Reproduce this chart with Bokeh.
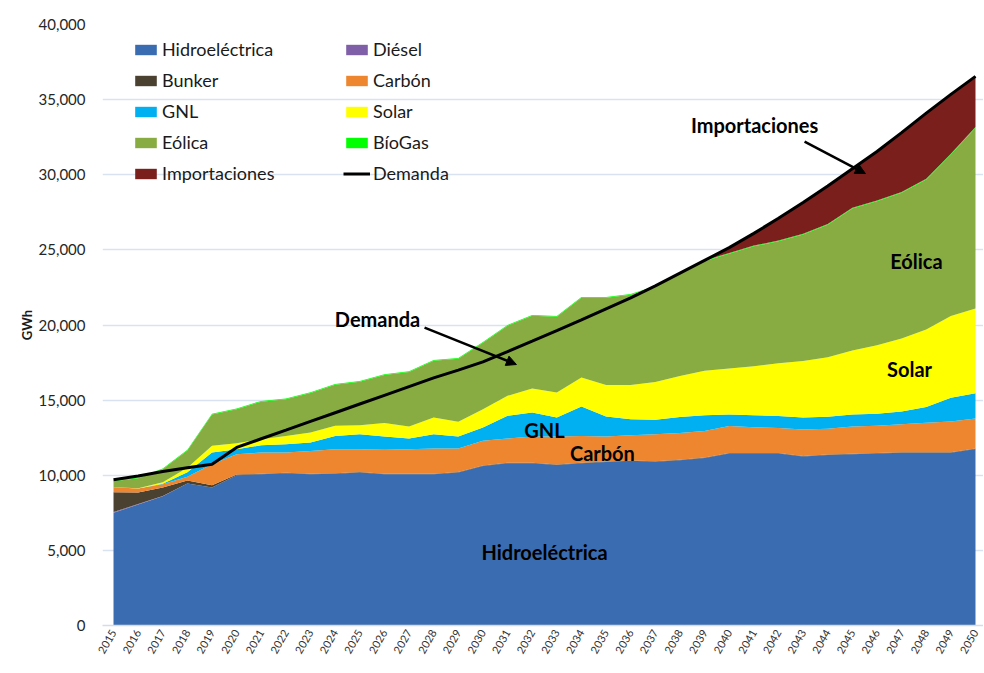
from bokeh.plotting import figure
from bokeh.models import (ColumnDataSource, Legend, LegendItem, FixedTicker,
                          NumeralTickFormatter, Arrow, NormalHead, Label, Range1d)
from bokeh.embed import file_html
from bokeh.resources import INLINE

years = list(range(2015, 2051))
tick_years = list(range(2015, 2051))
y_ticks = [0, 5000, 10000, 15000, 20000, 25000, 30000, 35000, 40000]

hidro = [7500, 8050, 8600, 9450, 9180, 10000, 10070, 10130, 10070, 10100, 10180, 10070,
         10070, 10070, 10180, 10620, 10800, 10800, 10690, 10800, 10890, 10960, 10900, 11000,
         11150, 11450, 11450, 11450, 11250, 11350, 11400, 11450, 11500, 11500, 11500, 11750]
diesel = [50, 40, 20, 0, 0, 0, 0, 0, 0, 0, 0, 0, 0, 0, 0, 0, 0, 0,
          0, 0, 0, 0, 0, 0, 0, 0, 0, 0, 0, 0, 0, 0, 0, 0, 0, 0]
bunker = [1320, 760, 560, 200, 150, 50, 30, 30, 30, 30, 30, 30, 30, 30, 30, 30, 30, 30,
          30, 30, 30, 30, 30, 30, 30, 30, 30, 30, 30, 30, 30, 30, 30, 30, 30, 30]
carbon = [330, 260, 220, 250, 1400, 1350, 1410, 1350, 1520, 1600, 1520, 1600,
          1630, 1680, 1570, 1640, 1610, 1750, 1860, 1790, 1660, 1680, 1800, 1790,
          1770, 1800, 1720, 1670, 1770, 1720, 1820, 1820, 1870, 1970, 2040, 2000]
gnl = [0, 0, 30, 300, 780, 330, 490, 560, 560, 890, 1000, 880,
       710, 950, 800, 890, 1520, 1600, 1260, 1960, 1330, 1060, 970, 1060,
       1050, 770, 800, 800, 800, 800, 800, 800, 850, 1050, 1580, 1670]
solar = [0, 30, 100, 300, 450, 400, 400, 550, 670, 670, 600, 890,
         800, 1110, 980, 1220, 1330, 1600, 1670, 1930, 2090, 2270, 2500, 2720,
         2950, 3050, 3250, 3500, 3750, 3950, 4250, 4550, 4850, 5150, 5450, 5650]
eolica = [400, 660, 870, 1150, 2090, 2270, 2500, 2430, 2630, 2730, 2890, 3210,
          3640, 3780, 4190, 4420, 4660, 4840, 5040, 5310, 5820, 6020, 6350, 6800,
          7300, 7650, 7990, 8120, 8420, 8830, 9450, 9590, 9700, 9980, 10750, 12030]
biogas = [50, 50, 50, 50, 50, 50, 50, 50, 50, 50, 50, 50, 50, 50, 50, 50, 50, 50,
          50, 50, 50, 50, 50, 50, 50, 50, 50, 50, 50, 50, 50, 50, 50, 50, 50, 50]
importaciones = [0, 0, 0, 0, 0, 0, 0, 0, 0, 0, 0, 0, 0, 0, 0, 0, 0, 0, 0, 0, 0, 0, 0, 0, 0,
                 350, 810, 1480, 2080, 2520, 2600, 3260, 3950, 4370, 3950, 3370]
demanda = [9700, 9950, 10250, 10500, 10730, 11850, 12430, 13000, 13580, 14160, 14740, 15320,
           15900, 16480, 17000, 17550, 18230, 18920, 19620, 20340, 21080, 21800, 22600, 23450,
           24300, 25150, 26100, 27100, 28150, 29250, 30400, 31550, 32800, 34100, 35350, 36550]

series_names = ["Hidroeléctrica", "Diésel", "Bunker", "Carbón", "GNL", "Solar",
                "Eólica", "BíoGas", "Importaciones"]
series_keys = ["hidro", "diesel", "bunker", "carbon", "gnl", "solar", "eolica", "biogas", "imp"]
colors = ["#3A6CB2", "#7F5FA8", "#4B4130", "#EE8630", "#00B0F0", "#FFFF00",
          "#88AC42", "#00FF00", "#7B1F1D"]

src = ColumnDataSource(dict(year=years, hidro=hidro, diesel=diesel, bunker=bunker,
                            carbon=carbon, gnl=gnl, solar=solar, eolica=eolica,
                            biogas=biogas, imp=importaciones, demanda=demanda))

FONT = "Lato"

p = figure(width=983, height=665, output_backend="svg", toolbar_location=None,
           x_range=Range1d(2014.553, 2050.325), y_range=Range1d(0, 40000),
           min_border_left=102, min_border_right=0, min_border_top=24, min_border_bottom=40)
p.outline_line_color = None
p.background_fill_color = "white"

areas = p.varea_stack(stackers=series_keys, x="year", color=colors, source=src)
dline = p.line("year", "demanda", source=src, line_color="black", line_width=3)

# axes
p.xgrid.visible = False
p.ygrid.grid_line_color = "#D9E2F0"
p.ygrid.grid_line_width = 1.5
p.ygrid.level = "underlay"

p.yaxis.ticker = FixedTicker(ticks=y_ticks)
p.yaxis.formatter = NumeralTickFormatter(format="0,0")
p.yaxis.axis_line_color = None
p.yaxis.major_tick_line_color = None
p.yaxis.minor_tick_line_color = None
p.yaxis.major_tick_out = 0
p.yaxis.major_tick_in = 0
p.yaxis.major_label_text_font = FONT
p.yaxis.major_label_text_font_size = "15px"
p.yaxis.major_label_text_color = "#262626"
p.yaxis.major_label_standoff = 17
p.yaxis.axis_label = "GWh"
p.yaxis.axis_label_text_font = FONT
p.yaxis.axis_label_text_font_style = "bold"
p.yaxis.axis_label_text_font_size = "13px"
p.yaxis.axis_label_text_color = "#1a1a1a"
p.yaxis.axis_label_standoff = 1

p.xaxis.ticker = FixedTicker(ticks=tick_years)
p.xaxis.axis_line_color = "#D5DCE8"
p.xaxis.axis_line_width = 1.5
p.xaxis.major_tick_line_color = None
p.xaxis.minor_tick_line_color = None
p.xaxis.major_tick_out = 0
p.xaxis.major_tick_in = 0
p.xaxis.major_label_orientation = 1.05
p.xaxis.major_label_text_font = FONT
p.xaxis.major_label_text_font_size = "11px"
p.xaxis.major_label_text_color = "#333333"
p.xaxis.major_label_standoff = 5

# legends (two columns)
r = dict(zip(series_names, areas))
col1 = [LegendItem(label=n, renderers=[r[n]]) for n in
        ["Hidroeléctrica", "Bunker", "GNL", "Eólica", "Importaciones"]]
col2 = [LegendItem(label=n, renderers=[r[n]]) for n in
        ["Diésel", "Carbón", "Solar", "BíoGas"]] + [LegendItem(label="Demanda", renderers=[dline])]
for items, loc in ((col1, (30, 441)), (col2, (241, 441))):
    leg = Legend(items=items, location=loc, orientation="vertical",
                 glyph_width=27, glyph_height=13, label_height=22, spacing=9,
                 padding=0, margin=0, label_standoff=3,
                 label_text_font=FONT, label_text_font_size="18px",
                 label_text_color="#1a1a1a",
                 border_line_color=None, background_fill_alpha=0)
    p.add_layout(leg, "center")

# annotations
labels = [("Importaciones", 2041.03, 33280), ("Demanda", 2025.72, 20370),
          ("Eólica", 2047.6, 24230), ("Solar", 2047.32, 17100), ("GNL", 2032.5, 12980),
          ("Carbón", 2034.85, 11450), ("Hidroeléctrica", 2032.5, 4860)]
for t, lx, ly in labels:
    p.add_layout(Label(x=lx, y=ly, text=t, text_align="center", text_baseline="middle",
                       text_font=FONT, text_font_style="bold", text_font_size="20px",
                       text_color="black"))

arrows = [(2043.06, 32210, 2045.53, 30080), (2027.63, 19830, 2031.36, 17370)]
for xs, ys, xe, ye in arrows:
    p.add_layout(Arrow(end=NormalHead(size=10, fill_color="black", line_color="black"),
                       x_start=xs, y_start=ys, x_end=xe, y_end=ye,
                       line_color="black", line_width=2.5))

open("out.html", "w").write(file_html(p, INLINE))
